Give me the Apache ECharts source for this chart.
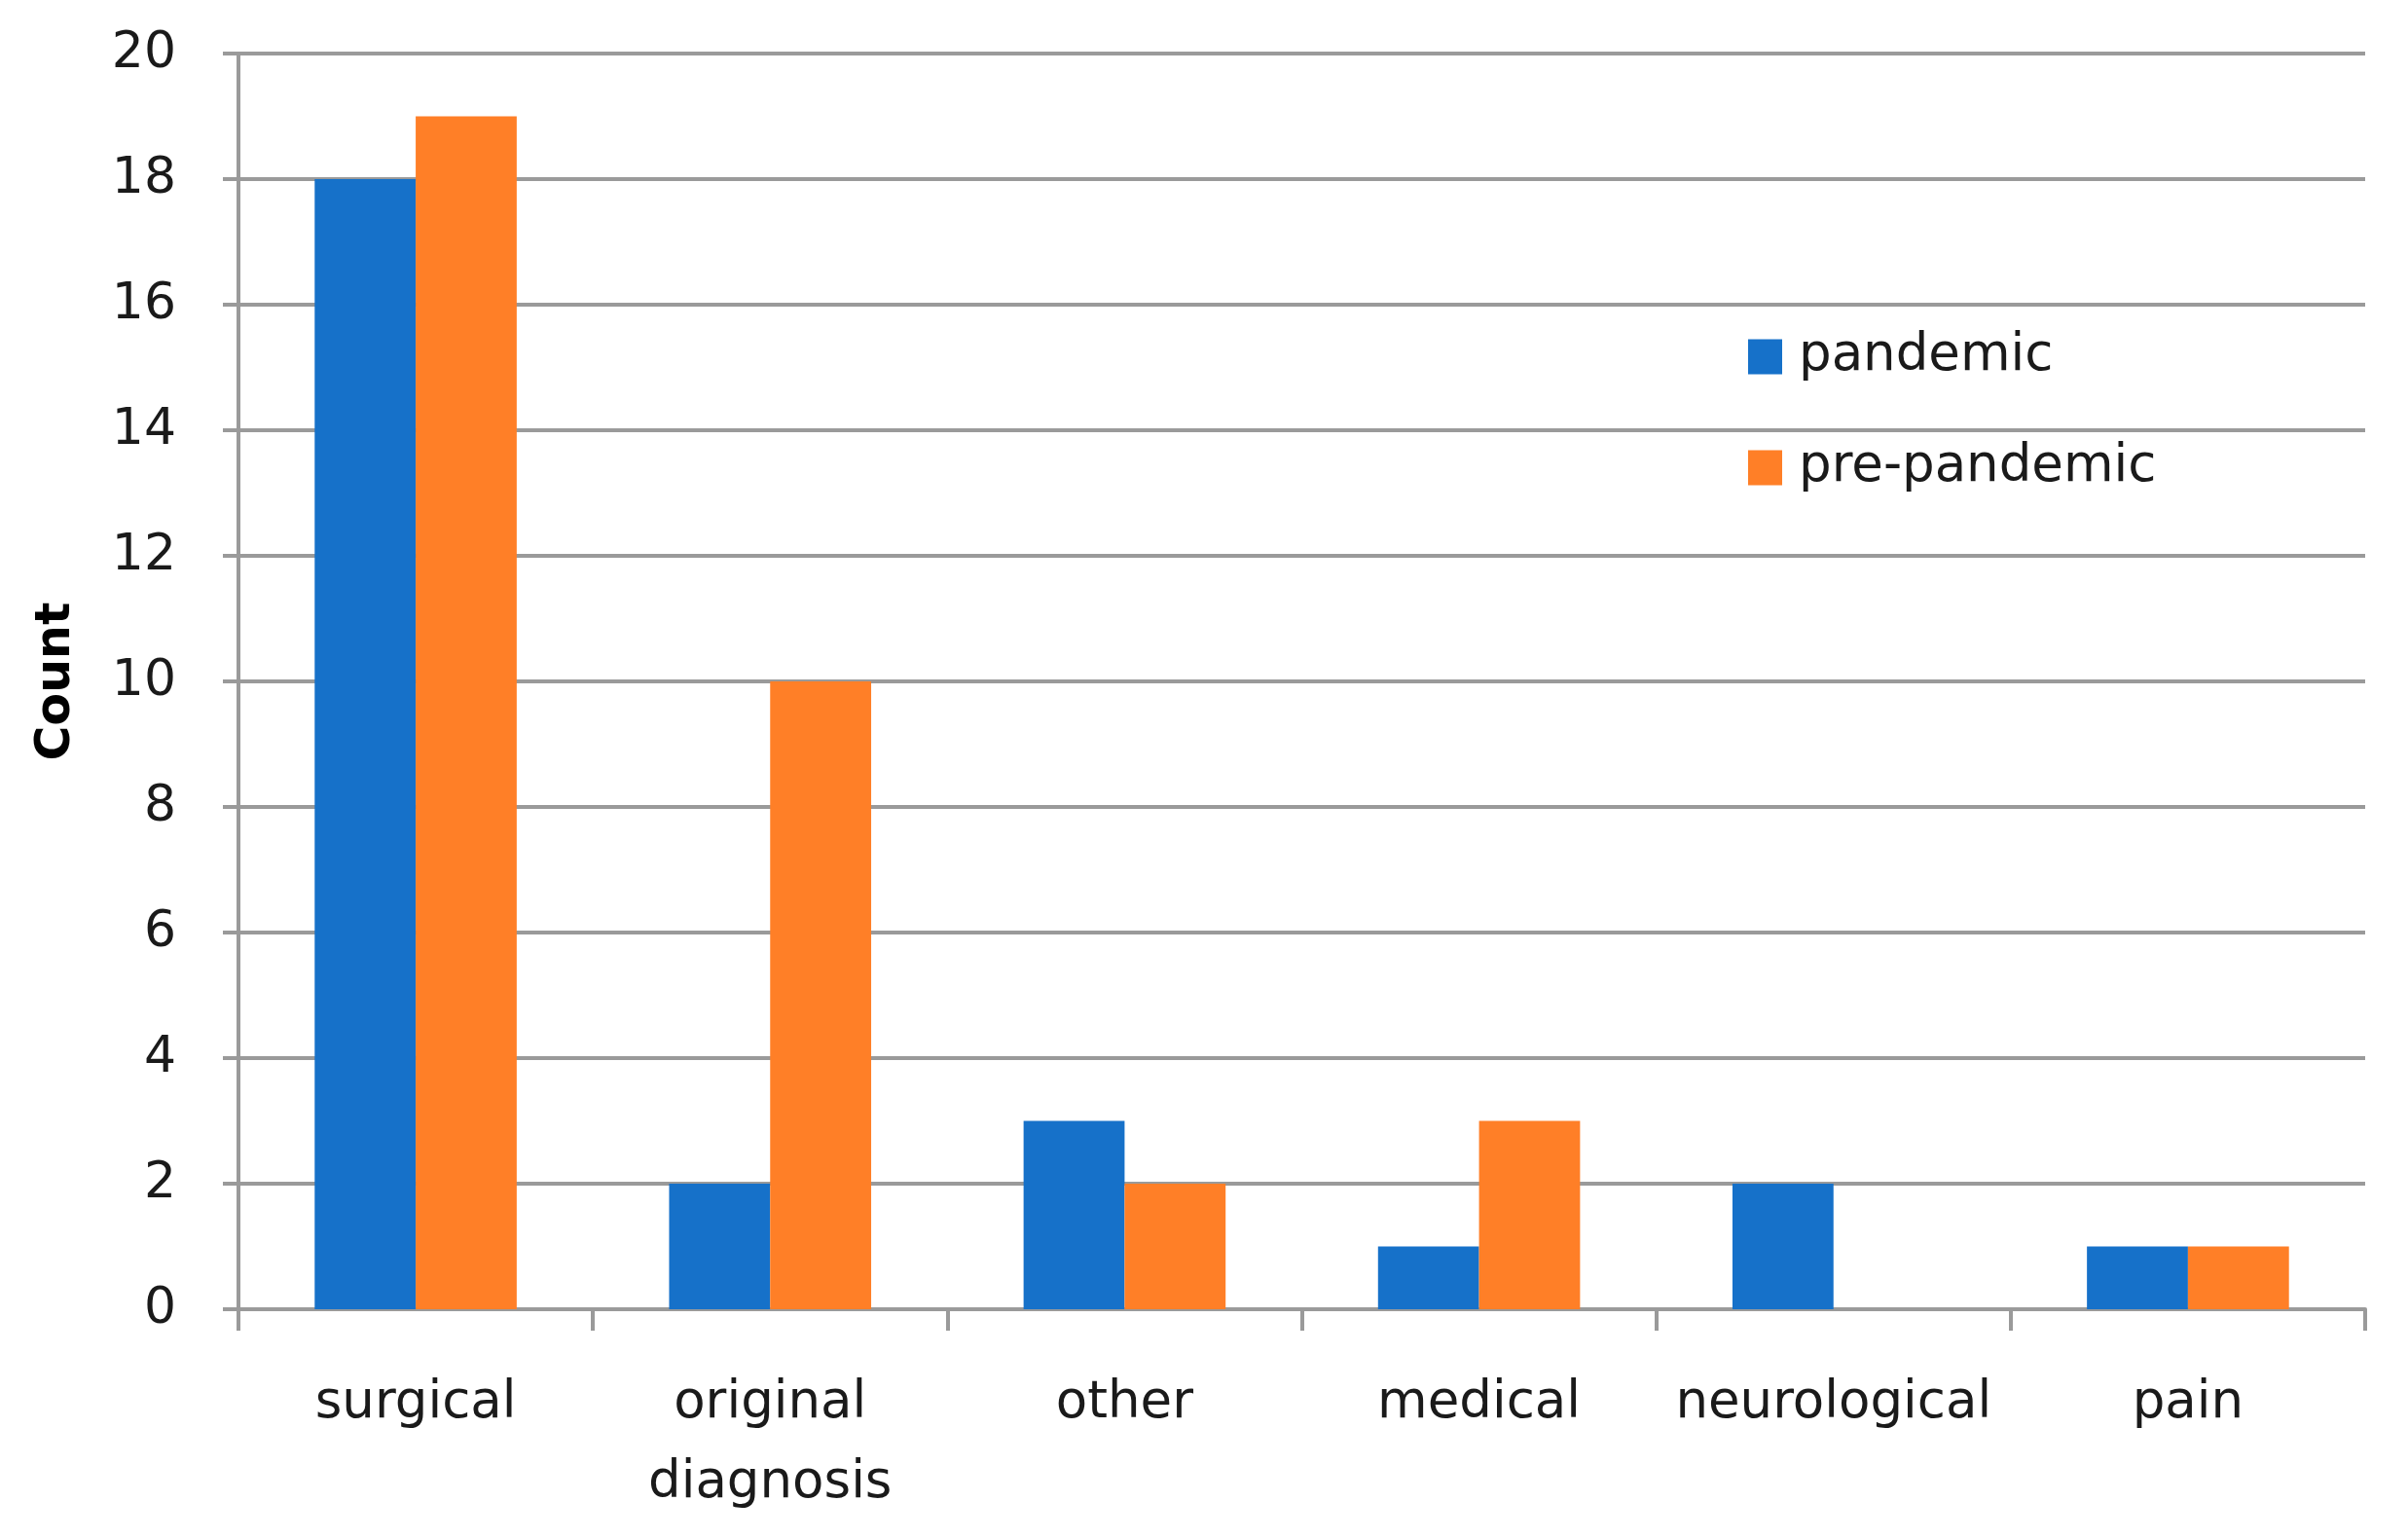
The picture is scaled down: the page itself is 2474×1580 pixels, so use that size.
<!DOCTYPE html>
<html>
<head>
<meta charset="utf-8">
<script src="https://cdn.jsdelivr.net/npm/echarts@6/dist/echarts.min.js"></script>
<style>
html, body { margin: 0; padding: 0; background: #fff; }
#chart { width: 2474px; height: 1580px; }
</style>
</head>
<body>
<div id="chart"></div>
<script>
// categories and counts
var categories = ['surgical', 'original\ndiagnosis', 'other', 'medical', 'neurological', 'pain'];
var pandemic = [18, 2, 3, 1, 2, 1];
var prePandemic = [19, 10, 2, 3, 0, 1];
var seriesNames = ['pandemic', 'pre-pandemic'];

var gray = '#9a9a9a';
var font = 'DejaVu Sans';

var myChart = echarts.init(document.getElementById('chart'));
var option = {
    animation: false,
    color: ['#1671c9', '#ff7f27'],
    textStyle: { fontFamily: font },
    grid: { left: 245, right: 44, top: 55, bottom: 235 },
    legend: {
        orient: 'vertical',
        left: 1791,
        top: 335,
        itemWidth: 35,
        itemHeight: 36,
        itemGap: 61,
        icon: 'rect',
        textStyle: { fontFamily: font, fontSize: 53, color: '#1a1a1a', padding: [0, 0, 0, 12] },
        data: seriesNames,
    },
    xAxis: {
        type: 'category',
        data: categories,
        axisLine: { lineStyle: { color: gray, width: 4 } },
        axisTick: { show: true, interval: 0, length: 22, lineStyle: { color: gray, width: 4 } },
        axisLabel: {
            interval: 0,
            color: '#1a1a1a',
            fontFamily: font,
            fontSize: 53,
            margin: 56,
            lineHeight: 82,
        },
    },
    yAxis: {
        type: 'value',
        min: 0,
        max: 20,
        interval: 2,
        name: 'Count',
        nameLocation: 'middle',
        nameRotate: 90,
        nameGap: 162,
        nameTextStyle: { fontFamily: font, fontSize: 49, fontWeight: 'bold', color: '#000' },
        axisLine: { show: true, lineStyle: { color: gray, width: 4 } },
        axisTick: { show: true, length: 16, lineStyle: { color: gray, width: 4 } },
        axisLabel: { color: '#1a1a1a', fontFamily: font, fontSize: 52, margin: 64 },
        splitLine: { lineStyle: { color: gray, width: 4 } },
    },
    series: [
        {
            name: seriesNames[0],
            type: 'bar',
            data: pandemic,
            barGap: '0%',
            barCategoryGap: '43%',
        },
        {
            name: seriesNames[1],
            type: 'bar',
            data: prePandemic,
            barGap: '0%',
            barCategoryGap: '43%',
        },
    ],
};
myChart.setOption(option);
</script>
</body>
</html>
